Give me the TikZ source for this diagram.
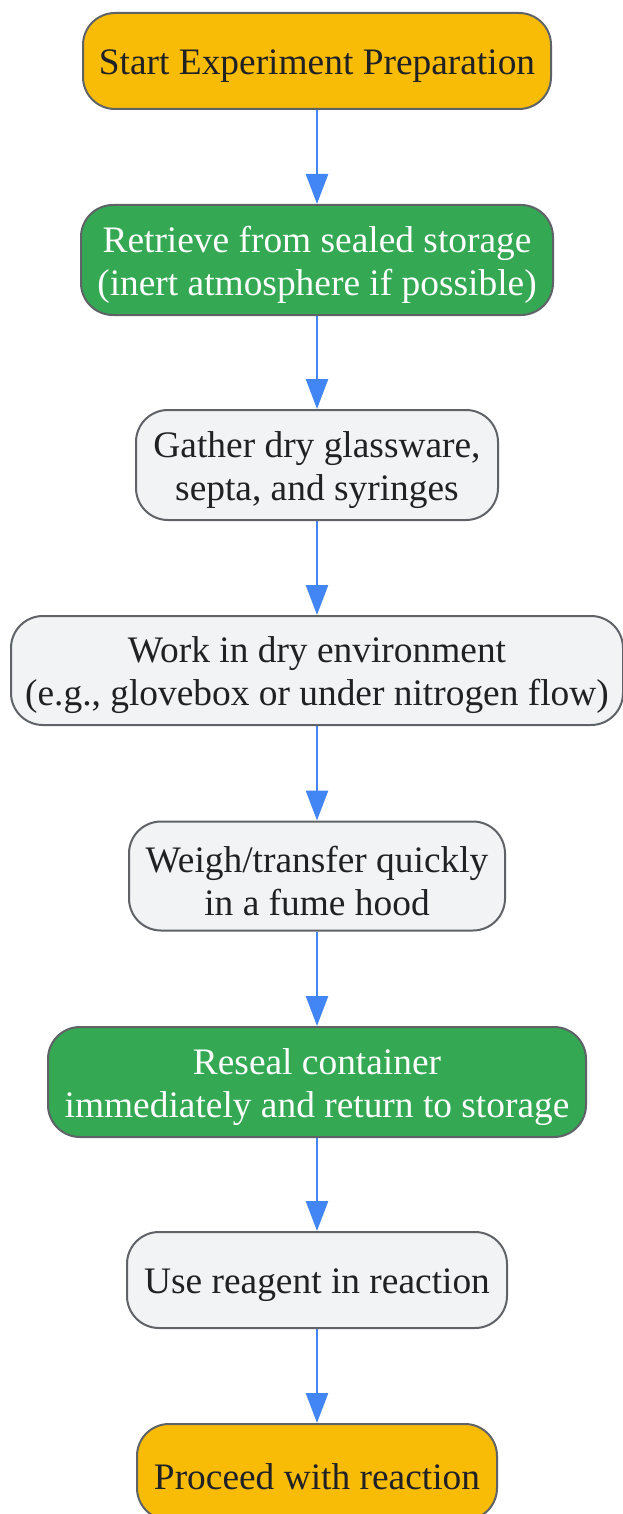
\documentclass[tikz,border=0pt]{standalone}
\usepackage{fontspec}
\setmainfont{Liberation Serif}
\usetikzlibrary{arrows.meta}
\definecolor{cyellow}{HTML}{F9BC06}
\definecolor{cgreen}{HTML}{34A853}
\definecolor{cgray}{HTML}{F1F3F4}
\definecolor{cborder}{HTML}{5F6368}
\definecolor{ctext}{HTML}{202124}
\definecolor{cblue}{HTML}{4285F4}
\tikzset{
  box/.style={draw=cborder, line width=2pt, rounded corners=32pt, inner sep=0pt},
  yellowbox/.style={box, fill=cyellow},
  greenbox/.style={box, fill=cgreen},
  graybox/.style={box, fill=cgray},
  darklab/.style={inner sep=0pt, align=center, yshift=-5pt, text=ctext,
    font=\fontsize{37.4}{43}\selectfont},
  whitelab/.style={darklab, text=white},
  flow/.style={draw=cblue, line width=2.6pt, -{Triangle[width=22pt,length=30pt]}}
}
\begin{document}
\begin{tikzpicture}[x=1pt,y=-1pt]
\useasboundingbox (0,0) rectangle (623,1514);
\clip (0,0) rectangle (623,1514);
\node[yellowbox, minimum width=468pt, minimum height=96pt,
  label={[darklab]center:Start Experiment Preparation}] (start) at (317,61) {};
\node[greenbox, minimum width=472pt, minimum height=110pt,
  label={[whitelab]center:Retrieve from sealed storage\\(inert atmosphere if possible)}] (retrieve) at (317,260) {};
\node[graybox, minimum width=362pt, minimum height=110pt,
  label={[darklab]center:Gather dry glassware,\\septa, and syringes}] (gather) at (317,465) {};
\node[graybox, minimum width=612pt, minimum height=109pt,
  label={[darklab]center:Work in dry environment\\(e.g., glovebox or under nitrogen flow)}] (work) at (317,670.5) {};
\node[graybox, minimum width=376pt, minimum height=109pt,
  label={[darklab]center:Weigh/transfer quickly\\in a fume hood}] (weigh) at (317,876) {};
\node[greenbox, minimum width=538pt, minimum height=110pt,
  label={[whitelab]center:Reseal container\\immediately and return to storage}] (reseal) at (317,1082) {};
\node[graybox, minimum width=380pt, minimum height=96pt,
  label={[darklab]center:Use reagent in reaction}] (use) at (317,1280) {};
\node[yellowbox, minimum width=360pt, minimum height=96pt,
  label={[darklab]center:Proceed with reaction}] (proceed) at (317,1472) {};
\draw[flow] (start) -- (retrieve);
\draw[flow] (retrieve) -- (gather);
\draw[flow] (gather) -- (work);
\draw[flow] (work) -- (weigh);
\draw[flow] (weigh) -- (reseal);
\draw[flow] (reseal) -- (use);
\draw[flow] (use) -- (proceed);
\end{tikzpicture}
\end{document}
